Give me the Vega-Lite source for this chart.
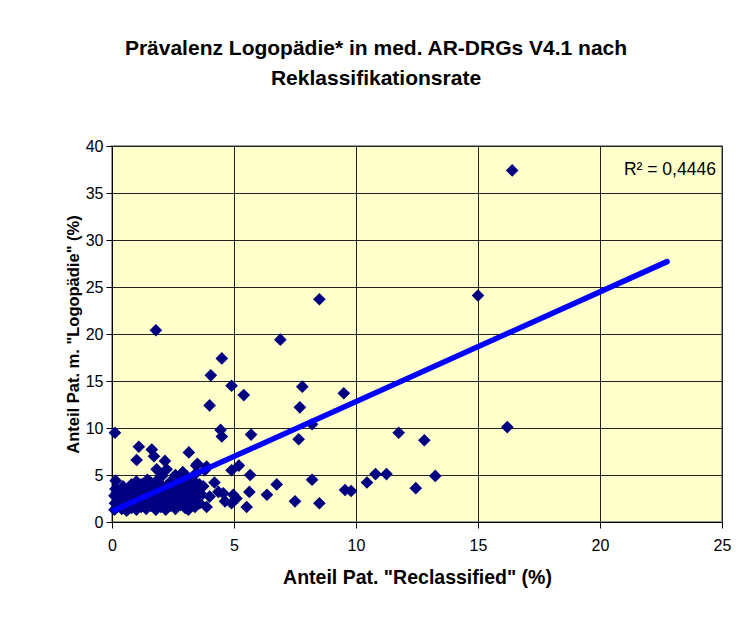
{
  "$schema": "https://vega.github.io/schema/vega-lite/v6.json",
  "width": 610,
  "height": 376,
  "autosize": {"type": "none"},
  "padding": {"left": 112, "top": 146, "right": 30, "bottom": 102},
  "background": "white",
  "title": {
    "text": ["Prävalenz Logopädie* in med. AR-DRGs V4.1 nach", "Reklassifikationsrate"],
    "font": "Liberation Sans",
    "fontSize": 21,
    "fontWeight": "bold",
    "color": "black",
    "anchor": "middle",
    "frame": "group",
    "dx": -41,
    "offset": 49,
    "lineHeight": 30
  },
  "config": {
    "view": {"fill": "#FFFFCC", "stroke": "#999999", "strokeWidth": 2},
    "axis": {
      "labelFont": "Liberation Sans",
      "labelFontSize": 16,
      "labelColor": "black",
      "titleFont": "Liberation Sans",
      "titleFontWeight": "bold",
      "titleColor": "black",
      "domainColor": "black",
      "tickColor": "black",
      "tickSize": 6,
      "gridColor": "#222222",
      "gridWidth": 1,
      "gridOpacity": 1
    }
  },
  "datasets": {
    "points": [
      {"x": 16.4, "y": 37.4}, {"x": 15.0, "y": 24.1}, {"x": 8.5, "y": 23.7}, {"x": 1.8, "y": 20.4},
      {"x": 6.9, "y": 19.4}, {"x": 4.5, "y": 17.4}, {"x": 4.05, "y": 15.6}, {"x": 4.9, "y": 14.5},
      {"x": 5.4, "y": 13.5}, {"x": 7.8, "y": 14.4}, {"x": 9.5, "y": 13.7}, {"x": 4.0, "y": 12.4},
      {"x": 7.7, "y": 12.2}, {"x": 4.45, "y": 9.8}, {"x": 4.5, "y": 9.1}, {"x": 5.7, "y": 9.3},
      {"x": 7.65, "y": 8.8}, {"x": 8.2, "y": 10.4}, {"x": 11.75, "y": 9.5}, {"x": 12.8, "y": 8.7},
      {"x": 16.2, "y": 10.1}, {"x": 13.25, "y": 4.9}, {"x": 12.45, "y": 3.6}, {"x": 11.25, "y": 5.1},
      {"x": 10.8, "y": 5.1}, {"x": 10.45, "y": 4.2}, {"x": 9.55, "y": 3.4}, {"x": 9.8, "y": 3.3},
      {"x": 8.2, "y": 4.5}, {"x": 7.5, "y": 2.2}, {"x": 8.5, "y": 2.0}, {"x": 6.75, "y": 4.0},
      {"x": 6.35, "y": 2.9}, {"x": 5.63, "y": 3.2}, {"x": 5.52, "y": 1.6}, {"x": 5.66, "y": 5.0},
      {"x": 5.2, "y": 6.0}, {"x": 4.9, "y": 5.5}, {"x": 4.97, "y": 2.9}, {"x": 4.9, "y": 2.0},
      {"x": 5.1, "y": 2.5}, {"x": 4.56, "y": 3.05}, {"x": 4.2, "y": 4.2}, {"x": 3.88, "y": 5.9},
      {"x": 3.74, "y": 3.8}, {"x": 3.88, "y": 1.6}, {"x": 4.0, "y": 2.7}, {"x": 4.63, "y": 2.2},
      {"x": 4.36, "y": 3.2}, {"x": 3.68, "y": 2.9}, {"x": 3.27, "y": 3.2}, {"x": 3.13, "y": 1.3},
      {"x": 0.12, "y": 9.5}, {"x": 1.1, "y": 8.0}, {"x": 1.63, "y": 7.7}, {"x": 1.01, "y": 6.6},
      {"x": 1.72, "y": 7.0}, {"x": 2.17, "y": 6.5}, {"x": 1.83, "y": 5.6}, {"x": 2.24, "y": 5.6},
      {"x": 3.15, "y": 7.4}, {"x": 3.5, "y": 6.2}, {"x": 3.8, "y": 5.5}, {"x": 0.15, "y": 4.4},
      {"x": 3.45, "y": 6.0}, {"x": 2.9, "y": 5.3}, {"x": 2.6, "y": 5.0},
      {"x": 0.1, "y": 1.3}, {"x": 0.12, "y": 2.0}, {"x": 0.1, "y": 2.8}, {"x": 0.14, "y": 3.5},
      {"x": 0.22, "y": 1.6}, {"x": 0.25, "y": 2.4}, {"x": 0.2, "y": 3.1},
      {"x": 0.4, "y": 1.4}, {"x": 0.42, "y": 2.2}, {"x": 0.38, "y": 3.0}, {"x": 0.45, "y": 3.8},
      {"x": 0.6, "y": 1.2}, {"x": 0.62, "y": 1.9}, {"x": 0.58, "y": 2.6}, {"x": 0.65, "y": 3.4},
      {"x": 0.8, "y": 1.5}, {"x": 0.78, "y": 2.3}, {"x": 0.83, "y": 3.1}, {"x": 0.8, "y": 4.0},
      {"x": 1.0, "y": 1.3}, {"x": 1.03, "y": 2.0}, {"x": 0.98, "y": 2.8}, {"x": 1.02, "y": 3.6}, {"x": 1.0, "y": 4.3},
      {"x": 1.2, "y": 1.6}, {"x": 1.22, "y": 2.4}, {"x": 1.18, "y": 3.2}, {"x": 1.2, "y": 4.0},
      {"x": 1.4, "y": 1.4}, {"x": 1.38, "y": 2.1}, {"x": 1.42, "y": 2.9}, {"x": 1.4, "y": 3.7}, {"x": 1.45, "y": 4.5},
      {"x": 1.6, "y": 1.7}, {"x": 1.62, "y": 2.5}, {"x": 1.58, "y": 3.3}, {"x": 1.6, "y": 4.2},
      {"x": 1.8, "y": 1.3}, {"x": 1.82, "y": 2.0}, {"x": 1.78, "y": 2.8}, {"x": 1.8, "y": 3.6}, {"x": 1.84, "y": 4.4},
      {"x": 2.0, "y": 1.6}, {"x": 2.02, "y": 2.4}, {"x": 1.98, "y": 3.2}, {"x": 2.0, "y": 4.0}, {"x": 2.05, "y": 4.9},
      {"x": 2.2, "y": 1.3}, {"x": 2.22, "y": 2.1}, {"x": 2.18, "y": 2.9}, {"x": 2.2, "y": 3.7},
      {"x": 2.4, "y": 1.7}, {"x": 2.42, "y": 2.5}, {"x": 2.38, "y": 3.4}, {"x": 2.4, "y": 4.3},
      {"x": 2.6, "y": 1.4}, {"x": 2.62, "y": 2.2}, {"x": 2.58, "y": 3.0}, {"x": 2.6, "y": 3.9},
      {"x": 2.8, "y": 1.8}, {"x": 2.82, "y": 2.7}, {"x": 2.78, "y": 3.5}, {"x": 2.8, "y": 4.4},
      {"x": 3.0, "y": 1.5}, {"x": 3.02, "y": 2.3}, {"x": 2.98, "y": 3.1}, {"x": 3.0, "y": 4.0}, {"x": 3.05, "y": 4.9},
      {"x": 3.2, "y": 2.0}, {"x": 3.22, "y": 2.8}, {"x": 3.18, "y": 3.7}, {"x": 3.2, "y": 4.6},
      {"x": 3.4, "y": 1.6}, {"x": 3.42, "y": 2.5}, {"x": 3.38, "y": 3.3}, {"x": 3.4, "y": 4.2}, {"x": 3.45, "y": 5.2},
      {"x": 3.6, "y": 2.0}, {"x": 3.62, "y": 3.0}, {"x": 3.58, "y": 4.0}
    ],
    "trend": [
      {"x": 0.12, "y": 1.28},
      {"x": 22.75, "y": 27.7}
    ],
    "label": [
      {"x": 24.75, "y": 37.45, "text": "R² = 0,4446"}
    ]
  },
  "layer": [
    {
      "data": {"name": "points"},
      "mark": {"type": "point", "shape": "diamond", "filled": true, "color": "#000080", "opacity": 1, "size": 160},
      "encoding": {
        "x": {
          "field": "x", "type": "quantitative",
          "scale": {"domain": [0, 25], "nice": false},
          "axis": {"values": [0, 5, 10, 15, 20, 25], "title": "Anteil Pat. \"Reclassified\" (%)", "titleFontSize": 19.5, "labelPadding": 9, "titlePadding": 15, "labelFlush": false}
        },
        "y": {
          "field": "y", "type": "quantitative",
          "scale": {"domain": [0, 40], "nice": false},
          "axis": {"values": [0, 5, 10, 15, 20, 25, 30, 35, 40], "title": "Anteil Pat. m. \"Logopädie\" (%)", "titleFontSize": 16.5, "labelPadding": 3, "titlePadding": 4, "labelFlush": false}
        }
      }
    },
    {
      "data": {"name": "trend"},
      "mark": {"type": "line", "color": "#0000FF", "strokeWidth": 5.5, "strokeCap": "round"},
      "encoding": {
        "x": {"field": "x", "type": "quantitative"},
        "y": {"field": "y", "type": "quantitative"}
      }
    },
    {
      "data": {"name": "label"},
      "mark": {"type": "text", "align": "right", "baseline": "middle", "font": "Liberation Sans", "fontSize": 17.5, "color": "black"},
      "encoding": {
        "x": {"field": "x", "type": "quantitative"},
        "y": {"field": "y", "type": "quantitative"},
        "text": {"field": "text"}
      }
    }
  ]
}
